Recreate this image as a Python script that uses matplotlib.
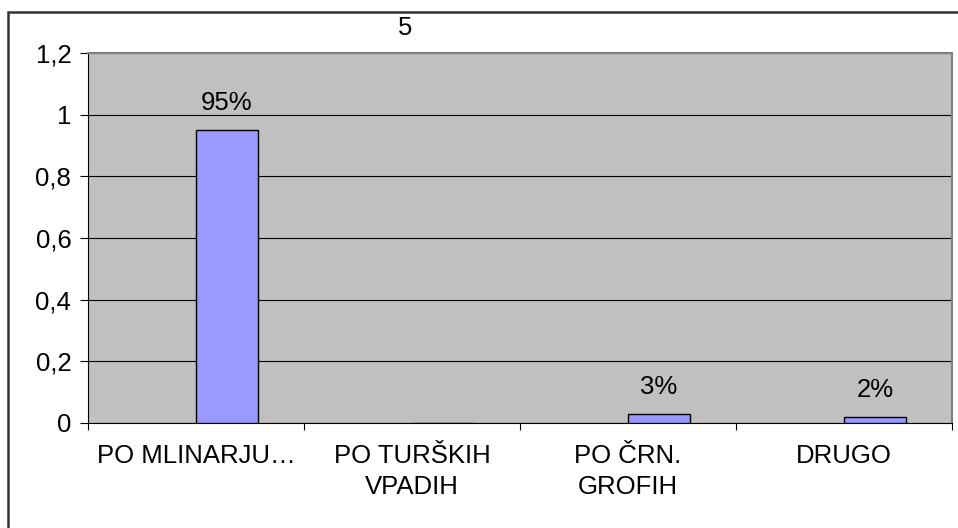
import matplotlib.pyplot as plt
from matplotlib.patches import Rectangle
from matplotlib.ticker import FixedLocator, FuncFormatter

categories = ['PO MLINARJU…', 'PO TURŠKIH\nVPADIH', 'PO ČRN.\nGROFIH', 'DRUGO']
values = [0.95, 0.0, 0.03, 0.02]
labels = ['95%', '', '3%', '2%']
title = '5'

plt.rcParams['font.family'] = ['Liberation Sans', 'DejaVu Sans']
FS = 18.5

W, H = 958, 528
fig = plt.figure(figsize=(W / 100, H / 100), dpi=100)
ax = fig.add_axes([88 / W, (H - 423) / H, 864 / W, 370 / H])
ax.set_facecolor('#C0C0C0')

# outer chart border (cut off at right and bottom)
fig.patches.append(Rectangle((8 / W, -0.1), 1.2, (H - 12) / H + 0.1,
                             transform=fig.transFigure, fill=False,
                             edgecolor='#333333', linewidth=1.8))

x = list(range(len(categories)))
bw = 0.286
# empty first series in the original, so the bars sit right of centre
bars = ax.bar([i + bw / 2 for i in x], values, width=bw, color='#9999FF',
              edgecolor='black', linewidth=1.0, zorder=3)
for b, lab in zip(bars, labels):
    if lab:
        ax.annotate(lab, (b.get_x() + b.get_width() / 2, b.get_height()),
                    xytext=(0, 14.5), textcoords='offset points',
                    ha='center', va='baseline', fontsize=FS, zorder=4)

ax.set_xlim(-0.5, 3.5)
ax.set_ylim(0, 1.2)
yt = [0, 0.2, 0.4, 0.6, 0.8, 1.0, 1.2]
ax.set_yticks(yt)
ax.yaxis.set_major_formatter(FuncFormatter(lambda v, p: ('%g' % round(v, 1)).replace('.', ',')))
ax.yaxis.grid(True, color='black', linewidth=0.8, zorder=1)
ax.set_axisbelow(True)

ax.xaxis.set_major_locator(FixedLocator([-0.5, 0.5, 1.5, 2.5, 3.5]))
ax.xaxis.set_minor_locator(FixedLocator(x))
ax.set_xticklabels([])
ax.set_xticklabels(categories, minor=True, fontsize=FS, linespacing=1.4)
ax.tick_params(axis='x', which='minor', length=0, pad=15)
ax.tick_params(axis='x', which='major', length=5, width=0.8)
ax.tick_params(axis='y', length=6, width=0.8, labelsize=FS, pad=6)

for s in ['left', 'bottom']:
    ax.spines[s].set_color('black')
    ax.spines[s].set_linewidth(0.8)
for s in ['top', 'right']:
    ax.spines[s].set_color('#808080')
    ax.spines[s].set_linewidth(1.5)

fig.text(405 / W, 1 - 28 / H, title, ha='center', va='center', fontsize=FS)

fig.savefig('out.png', dpi=100)
